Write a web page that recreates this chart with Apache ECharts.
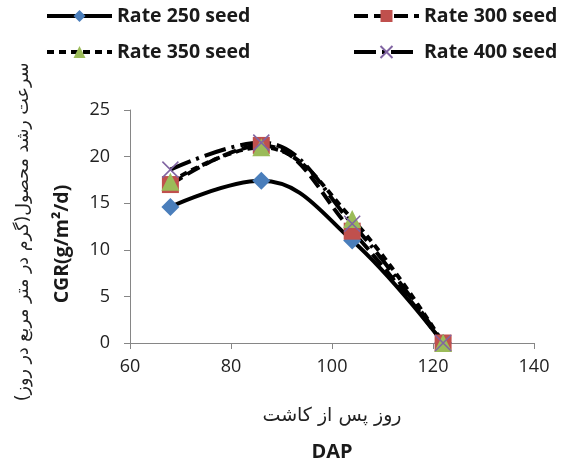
<!DOCTYPE html>
<html><head><meta charset="utf-8">
<script src="https://cdn.jsdelivr.net/npm/echarts@6/dist/echarts.min.js"></script>
<style>html,body{margin:0;padding:0;background:#fff}#c{width:570px;height:470px}</style>
</head><body><div id="c"></div>
<script>
const dap = [68, 86, 104, 122];
const rate250 = [14.6, 17.4, 11.0, 0];
const rate300 = [17.0, 21.2, 12.0, 0];
const rate350 = [17.3, 21.0, 13.3, 0];
const rate400 = [18.6, 21.5, 12.8, 0];
const seriesNames = ['Rate 250 seed', 'Rate 300 seed', 'Rate 350 seed', 'Rate 400 seed'];
const xTicks = [60, 80, 100, 120, 140];
const yTicks = [0, 5, 10, 15, 20, 25];

const pair = (arr) => dap.map((d, i) => [d, arr[i]]);
const chart = echarts.init(document.getElementById('c'));
const font = '"Open Sans", "Liberation Sans", sans-serif';
const legendText = {fontFamily: font, fontSize: 19.5, fontWeight: 'bold', color: '#1a1a1a'};
const mkLegend = (name, left, top) => ({data: [name], left: left, top: top, itemWidth: 65, itemHeight: 15, itemGap: 0, padding: 0,
  lineStyle: {width: 4}, textStyle: legendText});
chart.setOption({
  animation: false,
  legend: [
    mkLegend(seriesNames[0], 45, 6),
    mkLegend(seriesNames[2], 45, 42),
    mkLegend(seriesNames[1], 352, 6),
    mkLegend(seriesNames[3], 352, 42)
  ],
  grid: {left: 130, right: 36, top: 110, bottom: 127},
  xAxis: {type: 'value', min: xTicks[0], max: xTicks[xTicks.length - 1], interval: 20,
    axisLine: {lineStyle: {color: '#868686', width: 1}}, axisTick: {length: 6, lineStyle: {color: '#868686'}},
    splitLine: {show: false},
    axisLabel: {fontFamily: font, fontSize: 18, color: '#222', margin: 15}},
  yAxis: {type: 'value', min: yTicks[0], max: yTicks[yTicks.length - 1], interval: 5,
    axisLine: {show: true, lineStyle: {color: '#868686', width: 1}}, axisTick: {show: true, length: 6, lineStyle: {color: '#868686'}},
    splitLine: {show: false},
    axisLabel: {fontFamily: font, fontSize: 18, color: '#222', margin: 20}},
  graphic: [
    {type: 'text', x: 23, y: 232, rotation: Math.PI / 2, style: {text: 'سرعت رشد محصول(گرم در متر مربع در روز)', fontFamily: '"DejaVu Sans"', fontSize: 17.5, fill: '#222', textAlign: 'center', textVerticalAlign: 'middle'}},
    {type: 'text', x: 62, y: 244, rotation: Math.PI / 2, style: {text: 'CGR(g/m²/d)', fontFamily: font, fontSize: 19.5, fontWeight: 'bold', fill: '#1a1a1a', textAlign: 'center', textVerticalAlign: 'middle'}},
    {type: 'text', x: 332, y: 416, style: {text: 'روز پس از کاشت', fontFamily: '"DejaVu Sans"', fontSize: 19, fill: '#222', textAlign: 'center', textVerticalAlign: 'middle'}},
    {type: 'text', x: 332, y: 452, style: {text: 'DAP', fontFamily: font, fontSize: 20, fontWeight: 'bold', fill: '#1a1a1a', textAlign: 'center', textVerticalAlign: 'middle'}}
  ],
  series: [
    {name: seriesNames[0], type: 'line', smooth: 0.4, data: pair(rate250), symbol: 'diamond', symbolSize: 18,
      itemStyle: {color: '#4a7ebb'}, lineStyle: {color: '#000', width: 4}},
    {name: seriesNames[1], type: 'line', smooth: 0.4, data: pair(rate300), symbol: 'rect', symbolSize: 17,
      itemStyle: {color: '#c0504d'}, lineStyle: {color: '#000', width: 4, type: [14, 6]}},
    {name: seriesNames[2], type: 'line', smooth: 0.4, data: pair(rate350), symbol: 'triangle', symbolSize: 18,
      itemStyle: {color: '#9bbb59'}, lineStyle: {color: '#000', width: 4, type: [7, 5]}},
    {name: seriesNames[3], type: 'line', smooth: 0.4, data: pair(rate400), symbol: 'path://M0,0L10,10M10,0L0,10', symbolSize: 16,
      itemStyle: {color: 'none', borderColor: '#8064a2', borderWidth: 1.5}, lineStyle: {color: '#000', width: 4, type: [22, 6, 3, 6]}}
  ]
});
</script></body></html>
